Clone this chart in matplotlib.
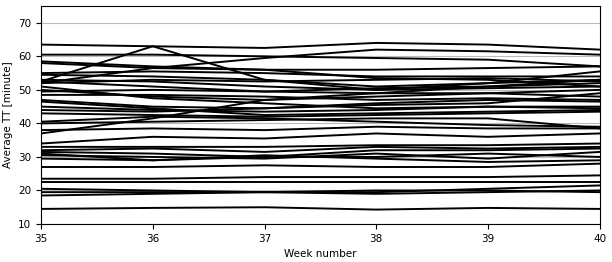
import matplotlib
matplotlib.use("Agg")
import matplotlib.pyplot as plt

weeks = [35, 36, 37, 38, 39, 40]

# average travel time per route
routes = [
    [63.5, 63.0, 62.5, 64.0, 63.5, 62.0],
    [60.5, 60.5, 60.0, 59.5, 59.0, 57.0],
    [52.5, 63.0, 53.0, 50.0, 50.5, 51.0],
    [52.0, 56.5, 59.5, 62.0, 61.5, 60.5],
    [58.5, 57.0, 56.0, 53.5, 53.0, 51.0],
    [58.0, 56.5, 56.0, 56.0, 56.5, 57.0],
    [55.0, 55.5, 55.0, 54.0, 54.0, 54.0],
    [54.5, 54.0, 53.0, 51.0, 52.0, 53.0],
    [53.0, 52.5, 51.0, 50.0, 52.0, 55.5],
    [52.5, 51.0, 49.5, 49.0, 49.0, 50.0],
    [52.0, 53.0, 52.5, 53.0, 53.5, 52.5],
    [51.0, 47.5, 46.0, 44.5, 45.0, 45.0],
    [50.0, 48.0, 47.0, 48.0, 49.0, 48.0],
    [49.5, 50.0, 49.5, 50.5, 51.0, 52.0],
    [48.5, 48.5, 48.0, 47.0, 47.5, 47.0],
    [47.0, 45.0, 44.5, 46.0, 47.0, 46.5],
    [46.5, 44.5, 42.5, 43.0, 43.5, 44.0],
    [45.0, 44.0, 43.5, 44.0, 45.0, 44.5],
    [44.0, 43.5, 44.5, 45.5, 46.0, 49.0],
    [43.0, 42.5, 42.0, 42.5, 43.0, 43.5],
    [37.0, 41.5, 47.0, 49.0, 51.0, 53.0],
    [40.5, 42.0, 41.5, 40.5, 39.5, 39.0],
    [40.0, 40.5, 41.0, 41.5, 41.5, 38.5],
    [38.0, 38.5, 38.0, 39.0, 38.5, 38.5],
    [34.0, 36.0, 35.5, 37.0, 36.0, 37.0],
    [33.0, 33.0, 33.0, 33.5, 33.5, 34.0],
    [32.0, 32.5, 31.5, 33.0, 32.5, 33.0],
    [31.5, 31.0, 30.0, 32.0, 32.0, 32.5],
    [31.0, 29.0, 30.0, 30.0, 31.0, 30.0],
    [30.5, 30.0, 29.5, 31.0, 29.5, 31.5],
    [29.5, 29.0, 30.5, 29.5, 28.5, 29.0],
    [27.0, 27.0, 27.5, 27.0, 27.0, 28.0],
    [23.5, 23.5, 24.0, 24.0, 24.0, 24.5],
    [22.5, 22.5, 22.5, 22.5, 22.5, 22.5],
    [20.5, 20.0, 19.5, 20.0, 20.0, 19.5],
    [19.5, 19.5, 19.5, 19.5, 20.5, 21.5],
    [18.5, 19.0, 19.5, 19.0, 19.5, 20.0],
    [14.5, 14.8, 15.0, 14.3, 14.8, 14.5],
]

fig = plt.figure(figsize=(6.12, 2.62), dpi=100)
ax = fig.add_axes([0.067, 0.145, 0.913, 0.832])

for r in routes:
    ax.plot(weeks, r, color='black', linewidth=1.4)

ax.set_xlim(35, 40)
ax.set_ylim(10, 75)
ax.set_yticks([10, 20, 30, 40, 50, 60, 70])
ax.yaxis.grid(True, color='#bbbbbb', linewidth=0.8)
ax.set_axisbelow(True)
ax.tick_params(labelsize=7.5)
ax.set_xlabel('Week number', fontsize=7.5)
ax.set_ylabel('Average TT [minute]', fontsize=7.5)

fig.savefig('out.png', dpi=100)
